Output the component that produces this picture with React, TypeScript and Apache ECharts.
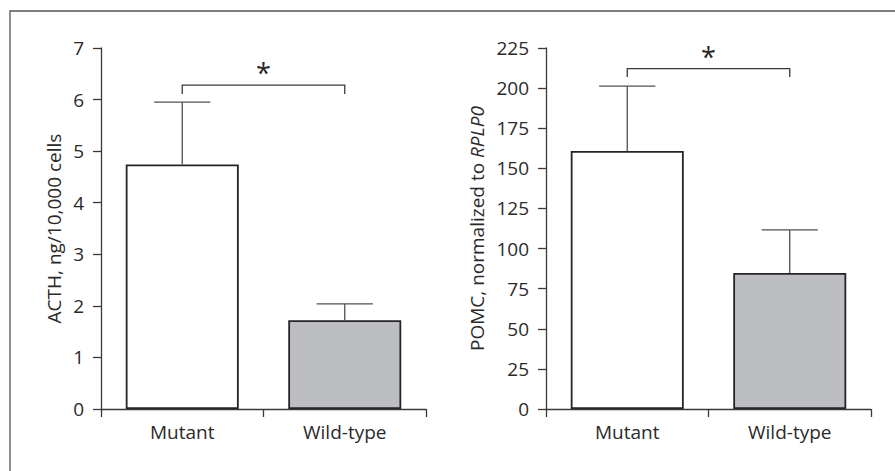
import React, { useEffect, useRef } from "react";
import * as echarts from "echarts";

const categories = ["Mutant", "Wild-type"];
const acthMean = [4.74, 1.72];
const acthSem = [1.21, 0.32];
const pomcMean = [160.8, 84.8];
const pomcSem = [40.5, 26.9];
const acthTicks = { min: 0, max: 7, interval: 1 };
const pomcTicks = { min: 0, max: 225, interval: 25 };
const acthBracket = [6.28, 6.11];
const pomcBracket = [212.1, 206.9];

const FONT = "Open Sans";
const TEXT = "#2a2a2a";
const AXIS = "#3a3a3a";

function errorRender(params: any, api: any) {
  const cat = api.value(0);
  const mean = api.value(1);
  const top = api.value(2);
  const p0 = api.coord([cat, mean]);
  const p1 = api.coord([cat, top]);
  const half = api.size([1, 0])[0] * 0.173;
  const style = { stroke: "#505050", lineWidth: 1.3 };
  return {
    type: "group",
    children: [
      { type: "line", shape: { x1: p0[0], y1: p0[1], x2: p1[0], y2: p1[1] }, style },
      { type: "line", shape: { x1: p1[0] - half, y1: p1[1], x2: p1[0] + half, y2: p1[1] }, style },
    ],
  };
}

function bracketRender(params: any, api: any) {
  const level = api.value(1);
  const drop = api.value(2);
  const a = api.coord([0, drop]);
  const b = api.coord([0, level]);
  const c = api.coord([1, level]);
  const d = api.coord([1, drop]);
  return {
    type: "group",
    children: [
      {
        type: "polyline",
        shape: { points: [a, b, c, d] },
        style: { stroke: "#3a3a3a", lineWidth: 1.3, fill: null },
      },
      {
        type: "text",
        x: (b[0] + c[0]) / 2,
        y: b[1] + 1,
        style: {
          text: "*",
          fontFamily: FONT,
          fontSize: 27,
          fill: TEXT,
          align: "center",
          verticalAlign: "bottom",
        },
      },
    ],
  };
}

export default function App() {
  const ref = useRef<HTMLDivElement>(null);
  useEffect(() => {
    if (!ref.current) return;
    const chart = echarts.init(ref.current, null, { renderer: "svg" });
    const xAxisBase = (gridIndex: number) => ({
      type: "category",
      gridIndex,
      data: categories,
      axisLine: { lineStyle: { color: AXIS, width: 1.3 } },
      axisTick: { show: true, inside: false, length: 8, lineStyle: { color: AXIS, width: 1.3 } },
      axisLabel: { color: TEXT, fontFamily: FONT, fontSize: 19, margin: 13 },
    });
    const yAxisBase = (gridIndex: number, t: any, name: any, nameGap: number) => ({
      type: "value",
      gridIndex,
      min: t.min,
      max: t.max,
      interval: t.interval,
      name,
      nameLocation: "middle",
      nameGap,
      nameTextStyle: {
        color: TEXT,
        fontFamily: FONT,
        fontSize: 19,
        rich: { i: { fontStyle: "italic", color: TEXT, fontFamily: FONT, fontSize: 19 } },
      },
      splitLine: { show: false },
      axisLine: { show: true, lineStyle: { color: AXIS, width: 1.3 } },
      axisTick: { show: true, length: 8, lineStyle: { color: AXIS, width: 1.3 } },
      axisLabel: { color: TEXT, fontFamily: FONT, fontSize: 19, margin: 17 },
    });
    const barStyle = (i: number) => ({
      color: i === 0 ? "#ffffff" : "#bdbec1",
      borderColor: "#252525",
      borderWidth: 1.8,
    });
    chart.setOption({
      animation: false,
      graphic: [
        {
          type: "rect",
          shape: { x: 10, y: 11, width: 1000, height: 1000 },
          style: { fill: "none", stroke: "#555", lineWidth: 1.3 },
          silent: true,
        },
      ],
      grid: [
        { left: 101, top: 48, width: 325, height: 361 },
        { left: 546, top: 48, width: 325, height: 361 },
      ],
      xAxis: [xAxisBase(0), xAxisBase(1)],
      yAxis: [
        yAxisBase(0, acthTicks, "ACTH, ng/10,000 cells", 38),
        yAxisBase(1, pomcTicks, "POMC, normalized to {i|RPLP0}", 60),
      ],
      series: [
        {
          type: "bar",
          xAxisIndex: 0,
          yAxisIndex: 0,
          barWidth: 113,
          data: acthMean.map((v, i) => ({ value: v, itemStyle: barStyle(i) })),
        },
        {
          type: "bar",
          xAxisIndex: 1,
          yAxisIndex: 1,
          barWidth: 113,
          data: pomcMean.map((v, i) => ({ value: v, itemStyle: barStyle(i) })),
        },
        {
          type: "custom",
          xAxisIndex: 0,
          yAxisIndex: 0,
          renderItem: errorRender,
          encode: { x: 0, y: 2 },
          data: acthMean.map((v, i) => [i, v, v + acthSem[i]]),
          z: 5,
        },
        {
          type: "custom",
          xAxisIndex: 1,
          yAxisIndex: 1,
          renderItem: errorRender,
          encode: { x: 0, y: 2 },
          data: pomcMean.map((v, i) => [i, v, v + pomcSem[i]]),
          z: 5,
        },
        {
          type: "custom",
          xAxisIndex: 0,
          yAxisIndex: 0,
          renderItem: bracketRender,
          encode: { x: 0, y: 1 },
          data: [[0, acthBracket[0], acthBracket[1]]],
        },
        {
          type: "custom",
          xAxisIndex: 1,
          yAxisIndex: 1,
          renderItem: bracketRender,
          encode: { x: 0, y: 1 },
          data: [[0, pomcBracket[0], pomcBracket[1]]],
        },
      ],
    });
    return () => chart.dispose();
  }, []);
  return (
    <div
      ref={ref}
      style={{ position: "fixed", left: 0, top: 0, width: 895, height: 471, background: "#fff" }}
    />
  );
}
